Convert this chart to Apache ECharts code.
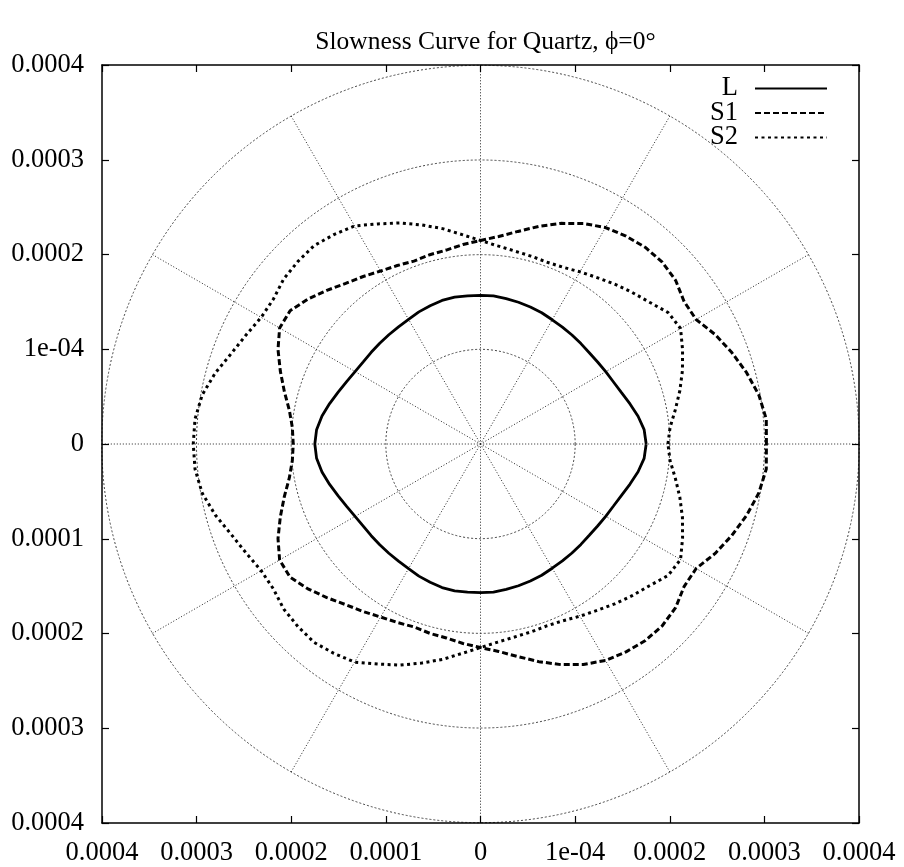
<!DOCTYPE html>
<html>
<head>
<meta charset="utf-8">
<script src="https://cdn.jsdelivr.net/npm/echarts@6/dist/echarts.min.js"></script>
<style>
  html, body { margin: 0; padding: 0; background: #fff; }
  #chart { width: 904px; height: 867px; }
</style>
</head>
<body>
<div id="chart"></div>
<script>
// Slowness (s/m) of the three bulk waves in quartz, sampled by propagation angle.
// Values are stored in units of 1e-4 s/m.
const UNIT = 1e-4;

const angles = [
  0, 5, 10, 15, 20, 25, 30, 35, 40, 45, 50, 55, 60, 65, 70, 75, 80, 85,
  90, 95, 100, 105, 110, 115, 120, 125, 130, 135, 140, 145, 150, 155, 160, 165, 170, 175,
  180, 185, 190, 195, 200, 205, 210, 215, 220, 225, 230, 235, 240, 245, 250, 255, 260, 265,
  270, 275, 280, 285, 290, 295, 300, 305, 310, 315, 320, 325, 330, 335, 340, 345, 350, 355,
  360
];

const slownessL = [
  1.75, 1.735, 1.69, 1.635, 1.585, 1.55, 1.527, 1.51, 1.50, 1.50, 1.503, 1.508, 1.515, 1.53, 1.54, 1.55, 1.56, 1.57,
  1.57, 1.57, 1.575, 1.57, 1.555, 1.54, 1.52, 1.51, 1.506, 1.505, 1.507, 1.512, 1.53, 1.56, 1.60, 1.65, 1.70, 1.738,
  1.75, 1.738, 1.70, 1.65, 1.60, 1.56, 1.53, 1.512, 1.507, 1.505, 1.506, 1.51, 1.52, 1.54, 1.555, 1.57, 1.575, 1.57,
  1.57, 1.57, 1.56, 1.55, 1.54, 1.53, 1.515, 1.508, 1.503, 1.50, 1.50, 1.51, 1.527, 1.55, 1.585, 1.635, 1.69, 1.735,
  1.75
];

const slownessS1 = [
  3.02, 3.03, 2.985, 2.91, 2.825, 2.735, 2.63, 2.625, 2.69, 2.715, 2.71, 2.68, 2.64, 2.57, 2.48, 2.38, 2.28, 2.20,
  2.15, 2.115, 2.08, 2.07, 2.056, 2.08, 2.11, 2.16, 2.215, 2.295, 2.38, 2.455, 2.45, 2.36, 2.25, 2.145, 2.05, 1.995,
  1.978, 1.995, 2.05, 2.145, 2.25, 2.36, 2.45, 2.455, 2.38, 2.295, 2.215, 2.16, 2.11, 2.08, 2.056, 2.07, 2.08, 2.115,
  2.15, 2.20, 2.28, 2.38, 2.48, 2.57, 2.64, 2.68, 2.71, 2.715, 2.69, 2.625, 2.63, 2.735, 2.825, 2.91, 2.985, 3.03,
  3.02
];

const slownessS2 = [
  1.98, 2.01, 2.09, 2.18, 2.27, 2.355, 2.44, 2.42, 2.33, 2.265, 2.205, 2.146, 2.10, 2.06, 2.045, 2.055, 2.07, 2.10,
  2.15, 2.22, 2.31, 2.395, 2.485, 2.565, 2.66, 2.70, 2.735, 2.727, 2.713, 2.67, 2.675, 2.73, 2.80, 2.90, 2.985, 3.027,
  3.034, 3.027, 2.985, 2.90, 2.80, 2.73, 2.675, 2.67, 2.713, 2.727, 2.735, 2.70, 2.66, 2.565, 2.485, 2.395, 2.31, 2.22,
  2.15, 2.10, 2.07, 2.055, 2.045, 2.06, 2.10, 2.146, 2.205, 2.265, 2.33, 2.42, 2.44, 2.355, 2.27, 2.18, 2.09, 2.01,
  1.98
];

const seriesNames = ['L', 'S1', 'S2'];
const seriesValues = [slownessL, slownessS1, slownessS2];

// Axis labels from -0.0004 to 0.0004, printed as magnitudes.
const tickLabels = ['0.0004', '0.0003', '0.0002', '0.0001', '0', '1e-04', '0.0002', '0.0003', '0.0004'];

const titleText = 'Slowness Curve for Quartz, \u03d5=0\u00b0';

const FONT = 'Liberation Serif';
const LABEL_SIZE = 26.5;
const TITLE_SIZE = 25.5;
const AXIS_MAX = 4 * UNIT;

const lineStyles = [
  { color: '#000', width: 2.8, type: 'solid' },
  { color: '#000', width: 3, type: [6, 3], cap: 'butt' },
  { color: '#000', width: 3, type: [3, 3.5], cap: 'butt' }
];

function tickText(v) {
  const idx = Math.round(v / UNIT) + 4;
  return tickLabels[idx] !== undefined ? tickLabels[idx] : '';
}

const borderLine = { show: true, onZero: false, lineStyle: { color: '#000', width: 1.5 } };
const innerTick = { show: true, inside: true, length: 7, lineStyle: { color: '#000', width: 1.2 } };
const labelStyle = { fontFamily: FONT, fontSize: LABEL_SIZE, color: '#000' };

function cartAxis(position, showLabel, margin) {
  return {
    type: 'value',
    position: position,
    min: -AXIS_MAX,
    max: AXIS_MAX,
    interval: UNIT,
    axisLine: borderLine,
    axisTick: innerTick,
    splitLine: { show: false },
    axisLabel: Object.assign({ show: showLabel, margin: margin, formatter: tickText }, labelStyle)
  };
}

const chart = echarts.init(document.getElementById('chart'), null, { renderer: 'canvas' });

chart.setOption({
  animation: false,
  backgroundColor: '#fff',
  title: {
    text: titleText,
    left: 480.5,
    textAlign: 'center',
    top: 24,
    textStyle: { fontFamily: FONT, fontSize: TITLE_SIZE, fontWeight: 'normal', color: '#000' }
  },
  legend: {
    data: seriesNames,
    orient: 'vertical',
    align: 'right',
    right: 71,
    top: 70,
    itemWidth: 72,
    itemHeight: 20,
    itemGap: -2.5,
    selectedMode: false,
    itemStyle: { opacity: 0 },
    textStyle: { fontFamily: FONT, fontSize: LABEL_SIZE, color: '#000', lineHeight: 20, padding: [0, 12, 0, 0] }
  },
  grid: { left: 102, top: 65, width: 757, height: 758 },
  xAxis: [cartAxis('bottom', true, 17), cartAxis('top', false, 8)],
  yAxis: [cartAxis('left', true, 18), cartAxis('right', false, 8)],
  polar: { center: [480.5, 444], radius: 378.7 },
  radiusAxis: {
    type: 'value',
    min: 0,
    max: AXIS_MAX,
    interval: UNIT,
    axisLine: { show: false },
    axisTick: { show: false },
    axisLabel: { show: false },
    splitLine: { show: true, lineStyle: { color: '#444', width: 1, type: [2, 2] } }
  },
  angleAxis: {
    type: 'value',
    min: 0,
    max: 360,
    interval: 30,
    startAngle: 0,
    clockwise: false,
    axisLine: { show: false },
    axisTick: { show: false },
    axisLabel: { show: false },
    splitLine: { show: true, lineStyle: { color: '#222', width: 1, type: [1, 2] } }
  },
  series: seriesNames.map((name, k) => ({
    name: name,
    type: 'line',
    coordinateSystem: 'polar',
    symbol: 'none',
    smooth: false,
    itemStyle: { color: '#000' },
    lineStyle: lineStyles[k],
    data: angles.map((a, i) => [seriesValues[k][i] * UNIT, a]),
    z: 5
  }))
});
</script>
</body>
</html>
